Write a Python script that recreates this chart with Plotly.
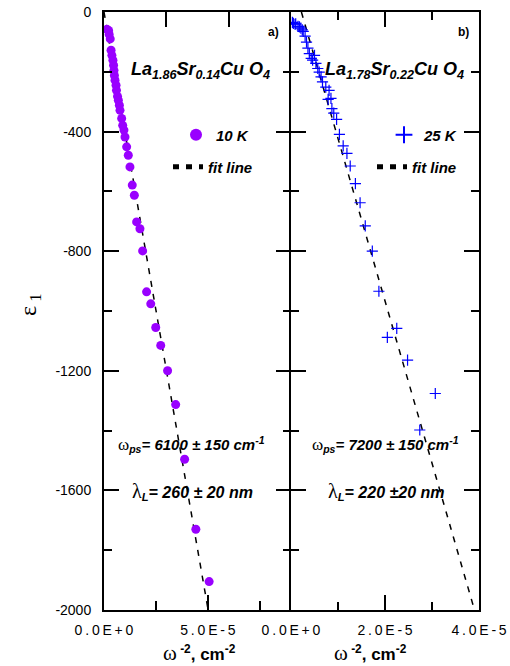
import plotly.graph_objects as go

# ---------------- data ----------------
# panel a) La1.86Sr0.14CuO4, 10 K  (x in units of 1e-5 cm^-2)
a_x = [0.14, 0.22, 0.25, 0.30, 0.34, 0.38, 0.43, 0.46, 0.48, 0.50, 0.53, 0.58, 0.60, 0.65,
       0.69, 0.74, 0.77, 0.85, 0.90, 0.96, 1.01, 1.09, 1.17, 1.25, 1.36, 1.46, 1.57, 1.73,
       1.86, 2.05, 2.25, 2.49, 2.73, 3.06, 3.45, 3.88, 4.42, 5.06]
a_y = [-58, -62, -75, -90, -128, -145, -161, -178, -195, -212, -228, -245, -262, -282,
       -295, -312, -329, -356, -379, -395, -418, -451, -479, -518, -579, -613, -702, -725,
       -799, -936, -976, -1055, -1115, -1200, -1313, -1496, -1730, -1905]

# panel b) La1.78Sr0.22CuO4, 25 K
b_x = [0.03, 0.05, 0.085, 0.10, 0.15, 0.18, 0.21, 0.24, 0.26, 0.30, 0.33, 0.36, 0.39, 0.43,
       0.46, 0.50, 0.53, 0.57, 0.60, 0.64, 0.67, 0.74, 0.81, 0.85, 0.79, 0.87, 0.91, 0.97,
       1.03, 1.11, 1.19, 1.26, 1.37, 1.47, 1.58, 1.73, 1.87, 2.05, 2.25, 2.48, 3.07, 2.74]
b_y = [-35, -38, -41, -40, -48, -50, -54, -60, -65, -81, -101, -121, -139, -155,
       -161, -145, -172, -189, -201, -217, -234, -251, -262, -289, -292, -323, -338, -359,
       -409, -448, -473, -515, -574, -638, -715, -800, -934, -1088, -1058, -1164, -1276, -1398]

x_unit = 1e-5

# linear fits  eps1 = intercept + slope * omega^-2
fit_a_slope, fit_a_intercept, fit_a_x = -3.99e7, 0.0, [0.0, 5.01e-5]
fit_b_slope, fit_b_intercept, fit_b_x = -5.43e7, 120.0, [0.221e-5, 3.904e-5]

y_tickvals = [0, -400, -800, -1200, -1600, -2000]
y_ticktext = ["0", "-400", "-800", "-1200", "-1600", "-2000"]
xa_tickvals = [0.0, 5e-5]
xa_ticktext = ["0.0E+0", "5.0E-5"]
xa_minor = [2.5e-5, 7.5e-5]
xa_top_ticks = [3e-5, 6e-5]
xb_tickvals = [0.0, 2e-5, 4e-5]
xb_ticktext = ["0.0E+0", "2.0E-5", "4.0E-5"]
xb_minor = [1e-5, 3e-5]

# ---------------- styling helpers ----------------
OFF = 0                      # page body margin removed by post_script below
W, H = 510 - OFF, 666 - OFF
L, T = 104 - OFF, 12 - OFF
PW, PH = 375, 598
R, B = W - L - PW, H - T - PH


def px(p):
    """screen x pixel -> paper fraction"""
    return (p - OFF - L) / PW


def py(p):
    """screen y pixel -> paper fraction"""
    return (T + PH - (p - OFF)) / PH


SANS = "Arial, Liberation Sans, sans-serif"
SERIF = "Times New Roman, Liberation Serif, serif"
PURPLE = "#9900FF"
BLUE = "#0000FF"


def spaced(s):
    return "\u2009".join(list(s))


fig = go.Figure()

# fit lines (drawn first, under the points)
fig.add_trace(go.Scatter(
    x=fit_a_x, y=[fit_a_intercept + fit_a_slope * v for v in fit_a_x],
    mode="lines", line=dict(color="black", width=1.5, dash="6px,7px"),
    name="fit line", xaxis="x", yaxis="y", legend="legend2", showlegend=True))
fig.add_trace(go.Scatter(
    x=fit_b_x, y=[fit_b_intercept + fit_b_slope * v for v in fit_b_x],
    mode="lines", line=dict(color="black", width=1.5, dash="6px,7px"),
    name="fit line", xaxis="x2", yaxis="y2", legend="legend4", showlegend=True))

fig.add_trace(go.Scatter(
    x=[v * x_unit for v in a_x], y=a_y, mode="markers",
    marker=dict(symbol="circle", size=9, color=PURPLE, line=dict(width=0)),
    name="10 K", xaxis="x", yaxis="y", legend="legend", showlegend=True))
fig.add_trace(go.Scatter(
    x=[v * x_unit for v in b_x], y=b_y, mode="markers",
    marker=dict(symbol="cross-thin", size=8, color=BLUE, line=dict(width=1.2, color=BLUE)),
    name="25 K", xaxis="x2", yaxis="y2", legend="legend3", showlegend=True))
# empty traces to activate the extra tick-only axes of panel a
fig.add_trace(go.Scatter(x=[], y=[], xaxis="x3", yaxis="y", showlegend=False))
fig.add_trace(go.Scatter(x=[], y=[], xaxis="x", yaxis="y3", showlegend=False))

split = (291 - 104) / PW
tickfont = dict(family=SANS, size=14, color="black")
common_axis = dict(showline=True, linecolor="black", linewidth=2, ticks="inside",
                   tickcolor="black", tickwidth=1.5, showgrid=False, zeroline=False,
                   ticklabeloverflow="allow")
y_minor = dict(dtick=200, ticks="inside", ticklen=8, tickwidth=1.5,
               tickcolor="black", showgrid=False)

fig.update_layout(
    width=W, height=H,
    margin=dict(l=L, r=R, t=T, b=B, autoexpand=False),
    showlegend=True,
    paper_bgcolor="white", plot_bgcolor="white",
    font=dict(family=SANS, color="black"),
    xaxis=dict(domain=[0, split], range=[0, 9e-5], anchor="y", mirror=True,
               tickvals=xa_tickvals, ticktext=[spaced(t) for t in xa_ticktext], ticklen=15,
               tickfont=tickfont, ticklabelstandoff=6,
               minor=dict(tickvals=xa_minor, ticks="inside", ticklen=9, tickwidth=1.5,
                          tickcolor="black", showgrid=False),
               **common_axis),
    xaxis3=dict(overlaying="x", side="top", anchor="y", range=[0, 9e-5],
                tickvals=xa_top_ticks, ticks="inside", ticklen=15, tickwidth=1.5,
                tickcolor="black", showticklabels=False, showline=False,
                showgrid=False, zeroline=False),
    xaxis2=dict(domain=[split, 1], range=[0, 4e-5], anchor="y2", mirror="ticks",
                tickvals=xb_tickvals, ticktext=[spaced(t) for t in xb_ticktext], ticklen=15,
                tickfont=tickfont, ticklabelstandoff=6,
                minor=dict(tickvals=xb_minor, ticks="inside", ticklen=8, tickwidth=1.5,
                           tickcolor="black", showgrid=False),
                **common_axis),
    yaxis=dict(range=[-2000, 0], anchor="x", mirror=False,
               tickvals=y_tickvals, ticktext=y_ticktext, ticklen=15,
               tickfont=tickfont, ticklabelstandoff=8,
               minor=y_minor, **common_axis),
    yaxis3=dict(range=[-2000, 0], overlaying="y", side="right", anchor="x",
                tickvals=y_tickvals, showticklabels=False, ticks="inside", ticklen=15,
                tickwidth=1.5, tickcolor="black", showline=False, showgrid=False,
                zeroline=False, minor=y_minor),
    yaxis2=dict(range=[-2000, 0], anchor="x2", mirror="ticks",
                tickvals=y_tickvals, showticklabels=False, ticklen=15,
                minor=y_minor, **common_axis),
)

legend_font = dict(family=SANS, size=15, color="black", weight="bold", style="italic")
leg_common = dict(bgcolor="rgba(0,0,0,0)", borderwidth=0, font=legend_font,
                  xanchor="left", yanchor="middle", itemsizing="constant")
fig.update_layout(
    legend=dict(x=px(176), y=py(135), **leg_common),
    legend2=dict(x=px(168), y=py(167), **leg_common),
    legend3=dict(x=px(384), y=py(135), **leg_common),
    legend4=dict(x=px(372), y=py(167), **leg_common),
)

bi = dict(family=SANS, color="black", weight="bold", style="italic")
greek = "font-family:{};font-weight:normal;font-style:normal".format(SERIF)

annotations = [
    # panel labels
    dict(x=px(273), y=py(32), text="a)", font=dict(family=SANS, size=12, weight="bold")),
    dict(x=px(463), y=py(32), text="b)", font=dict(family=SANS, size=12, weight="bold")),
    # compounds
    dict(x=px(200), y=py(70),
         text="La<sub>1.86</sub>Sr<sub>0.14</sub>Cu O<sub>4</sub>", font=dict(size=18, **bi)),
    dict(x=px(394), y=py(70),
         text="La<sub>1.78</sub>Sr<sub>0.22</sub>Cu O<sub>4</sub>", font=dict(size=18, **bi)),
    # plasma frequency / penetration depth
    dict(x=px(191), y=py(444),
         text='<span style="{};font-size:17px">ω</span><sub>ps</sub>= 6100 ± 150 cm<sup>-1</sup>'.format(greek),
         font=dict(size=15, **bi)),
    dict(x=px(192), y=py(491),
         text='<span style="{};font-size:20px">λ</span><sub>L</sub>= 260 ± 20 nm'.format(greek),
         font=dict(size=16, **bi)),
    dict(x=px(385), y=py(444),
         text='<span style="{};font-size:17px">ω</span><sub>ps</sub>= 7200 ± 150 cm<sup>-1</sup>'.format(greek),
         font=dict(size=15, **bi)),
    dict(x=px(386), y=py(491),
         text='<span style="{};font-size:20px">λ</span><sub>L</sub>= 220 ±20 nm'.format(greek),
         font=dict(size=16, **bi)),
    # axis titles
    dict(x=px(199), y=py(653),
         text='<span style="{};font-size:21px">ω</span><sup> -2</sup>, cm<sup>-2</sup>'.format(greek),
         font=dict(family=SANS, size=17, weight="bold")),
    dict(x=px(370), y=py(653),
         text='<span style="{};font-size:21px">ω</span><sup> -2</sup>, cm<sup>-2</sup>'.format(greek),
         font=dict(family=SANS, size=17, weight="bold")),
    dict(x=px(30), y=py(305), textangle=-90,
         text='ε<sub> 1</sub>', font=dict(family=SERIF, size=24)),
]
for a in annotations:
    a.update(xref="paper", yref="paper", showarrow=False, xanchor="center", yanchor="middle")
fig.update_layout(annotations=annotations)

fig.write_html("out.html", config={"displayModeBar": False},
               post_script="document.body.style.margin='0px';")
